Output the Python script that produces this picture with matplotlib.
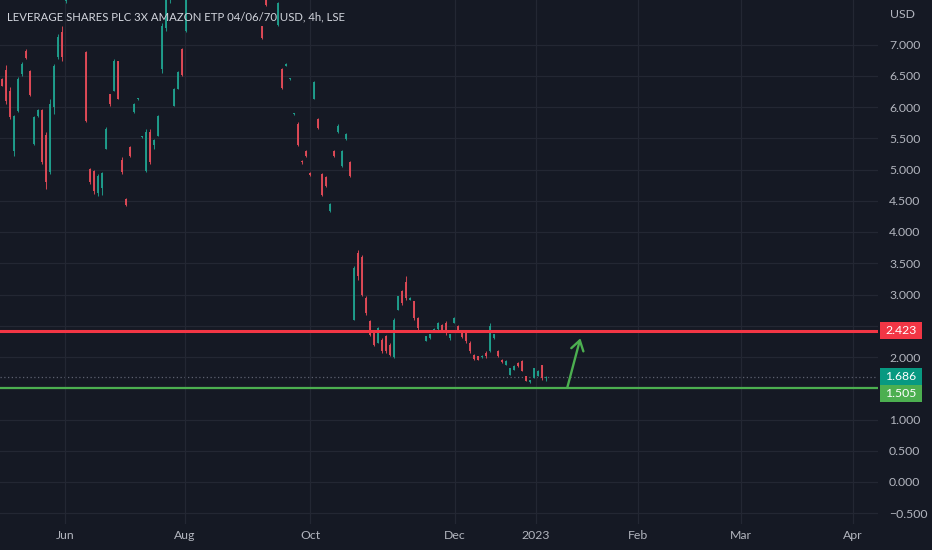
import matplotlib
matplotlib.use("Agg")
import matplotlib.pyplot as plt
from matplotlib.patches import Rectangle
from matplotlib.transforms import blended_transform_factory
import numpy as np

# ---- data (4h candles) ----
opens = [6.45, 6.60, 6.25, 5.30, 5.94, 6.53, 6.90, 6.58, 5.41, 5.86,
         5.95, 5.55, 4.96, 6.00, 6.80, 7.20, 7.70, 8.10, 8.40, 8.30,
         8.00, 6.88, 5.01, 4.98, 4.62, 4.70, 5.33, 6.21, 6.26, 6.73,
         5.15, 4.53, 5.36, 5.92, 6.13, 5.52, 4.98, 5.60, 5.40, 5.54,
         6.61, 7.26, 7.75, 6.02, 6.29, 6.93, 7.22, 7.90, 8.20, 8.50,
         8.80, 9.00, 9.30, 9.10, 8.80, 8.60, 8.80, 8.70, 8.30, 8.10,
         8.30, 8.05, 7.90, 8.00, 7.85, 7.29, 7.80, 7.80, 7.90, 7.32,
         6.61, 6.66, 6.45, 5.89, 5.73, 5.14, 5.30, 4.95, 6.13, 5.81,
         4.93, 4.88, 4.34, 5.30, 5.60, 5.06, 5.49, 5.12, 2.60, 3.66,
         3.60, 2.95, 2.57, 2.39, 2.23, 2.28, 2.33, 2.20, 2.00, 2.76,
         3.05, 3.20, 2.92, 2.89, 2.63, 2.42, 2.26, 2.30, 2.41, 2.45,
         2.52, 2.55, 2.30, 2.55, 2.50, 2.40, 2.38, 2.23, 2.04, 2.01,
         2.00, 2.07, 2.10, 2.30, 2.10, 1.96, 1.88, 1.72, 1.80, 1.90,
         1.93, 1.69, 1.60, 1.67, 1.70, 1.88, 1.66]
highs = [6.47, 6.68, 6.32, 5.88, 6.48, 6.72, 6.93, 6.60, 5.86, 5.97,
         5.97, 5.60, 6.13, 6.69, 7.17, 7.29, 8.30, 8.50, 8.70, 8.40,
         8.20, 6.90, 5.03, 5.00, 4.93, 4.96, 5.68, 6.21, 6.77, 6.73,
         5.20, 4.55, 5.38, 6.06, 6.14, 5.53, 5.65, 5.65, 5.49, 5.88,
         7.35, 8.00, 8.20, 6.30, 6.58, 6.95, 8.00, 8.30, 8.60, 8.90,
         9.20, 9.40, 9.60, 9.30, 9.00, 8.90, 9.10, 8.80, 8.50, 8.40,
         8.50, 8.20, 8.10, 8.10, 8.00, 7.30, 7.90, 8.00, 8.10, 7.68,
         6.62, 6.70, 6.46, 5.90, 5.76, 5.15, 5.31, 4.96, 6.42, 5.82,
         4.95, 4.90, 4.46, 5.31, 5.73, 5.31, 5.58, 5.13, 3.45, 3.72,
         3.64, 2.97, 2.60, 2.40, 2.48, 2.30, 2.35, 2.22, 2.62, 2.98,
         3.08, 3.30, 2.96, 2.90, 2.64, 2.43, 2.34, 2.37, 2.46, 2.56,
         2.53, 2.57, 2.37, 2.64, 2.51, 2.41, 2.40, 2.25, 2.05, 2.02,
         2.03, 2.09, 2.55, 2.37, 2.12, 1.97, 1.96, 1.83, 1.88, 1.92,
         1.96, 1.69, 1.64, 1.83, 1.80, 1.88, 1.70]
lows = [6.33, 6.05, 5.81, 5.22, 5.92, 6.50, 6.77, 6.18, 5.40, 5.84,
        5.09, 4.69, 4.93, 5.89, 6.77, 6.73, 7.66, 7.95, 8.20, 7.90,
        7.80, 5.76, 4.77, 4.61, 4.57, 4.60, 5.33, 6.02, 6.26, 6.13,
        4.93, 4.41, 5.20, 5.91, 6.12, 5.51, 4.96, 5.09, 5.33, 5.54,
        6.55, 7.22, 7.66, 6.02, 6.29, 6.50, 7.20, 7.80, 8.10, 8.40,
        8.60, 8.80, 9.00, 8.70, 8.50, 8.40, 8.60, 8.20, 8.00, 7.90,
        8.00, 7.85, 7.80, 7.80, 7.78, 7.09, 7.62, 7.76, 7.78, 7.30,
        6.29, 6.66, 6.44, 5.88, 5.38, 5.09, 5.20, 4.90, 6.13, 5.65,
        4.57, 4.72, 4.32, 5.20, 5.58, 5.04, 5.48, 4.88, 2.60, 3.24,
        2.97, 2.68, 2.33, 2.17, 2.23, 2.07, 2.07, 2.02, 1.99, 2.75,
        2.84, 2.92, 2.91, 2.60, 2.44, 2.40, 2.25, 2.29, 2.40, 2.44,
        2.40, 2.36, 2.28, 2.54, 2.42, 2.31, 2.23, 2.07, 1.96, 1.95,
        1.99, 1.99, 2.08, 2.29, 2.00, 1.91, 1.88, 1.72, 1.79, 1.84,
        1.77, 1.61, 1.59, 1.67, 1.69, 1.64, 1.62]
closes = [6.34, 6.10, 5.84, 5.86, 6.45, 6.69, 6.78, 6.20, 5.84, 5.95,
          5.12, 4.80, 6.05, 6.66, 7.12, 6.80, 8.10, 8.40, 8.30, 8.00,
          7.85, 5.78, 4.80, 4.65, 4.90, 4.95, 5.65, 6.05, 6.73, 6.13,
          4.96, 4.43, 5.22, 6.05, 6.13, 5.52, 5.60, 5.12, 5.47, 5.86,
          7.30, 7.80, 8.10, 6.29, 6.56, 6.52, 7.90, 8.20, 8.50, 8.80,
          9.00, 9.30, 9.10, 8.80, 8.60, 8.80, 8.70, 8.30, 8.10, 8.30,
          8.05, 7.90, 8.00, 7.85, 7.95, 7.10, 7.64, 7.90, 7.85, 7.66,
          6.31, 6.69, 6.45, 5.89, 5.40, 5.12, 5.22, 4.91, 6.40, 5.66,
          4.60, 4.74, 4.45, 5.22, 5.70, 5.30, 5.57, 4.90, 3.43, 3.30,
          3.00, 2.70, 2.36, 2.20, 2.47, 2.10, 2.09, 2.04, 2.60, 2.97,
          2.86, 2.95, 2.95, 2.62, 2.46, 2.41, 2.33, 2.36, 2.45, 2.55,
          2.41, 2.38, 2.36, 2.63, 2.43, 2.32, 2.25, 2.09, 1.97, 1.96,
          2.02, 2.01, 2.50, 2.36, 2.01, 1.92, 1.94, 1.82, 1.86, 1.85,
          1.78, 1.62, 1.63, 1.82, 1.78, 1.66, 1.686]

month_labels = ["Jun", "Aug", "Oct", "Dec", "2023", "Feb", "Mar", "Apr"]
month_bar_pos = [15.75, 45.75, 77, 113.25, 133.5, 159, 184.75, 212.75]
price_ticks = [-0.5, 0.0, 0.5, 1.0, 1.5, 2.0, 2.5, 3.0, 3.5, 4.0,
               4.5, 5.0, 5.5, 6.0, 6.5, 7.0]
hidden_ticks = [1.5, 2.5]     # covered by the price labels on the axis
resistance = 2.423
support = 1.505
last_price = 1.686
arrow_start = (141.3, 1.505)
arrow_end = (144.6, 2.30)
title = "LEVERAGE SHARES PLC 3X AMAZON ETP 04/06/70 USD, 4h, LSE"

# ---- style ----
BG = "#151924"
GRID = "#232733"
TXT = "#b2b5be"
UP = "#1f9e8c"
DN = "#e04a57"
RED = "#f23645"
GREEN = "#4caf50"
TEAL = "#089981"
FONT = ["Lato", "DejaVu Sans"]
plt.rcParams["font.family"] = FONT

W, H = 932, 550
fig = plt.figure(figsize=(W / 100, H / 100), dpi=100, facecolor=BG)
ax = fig.add_axes([0, 26 / H, 878 / W, 524 / H], facecolor=BG)

o = np.array(opens); h = np.array(highs); l = np.array(lows); c = np.array(closes)
x = np.arange(len(o))
up = c >= o
cols = np.where(up, UP, DN)

ax.vlines(x, l, h, colors=cols, linewidth=0.75, zorder=2, alpha=0.9)
body_bottom = np.minimum(o, c)
body_h = np.maximum(np.abs(c - o), 0.02)
ax.bar(x, body_h, bottom=body_bottom, width=0.45, color=cols, linewidth=0,
       zorder=2, alpha=0.95)

ax.set_xlim(-0.5, 219)
ax.set_ylim(-0.672, 7.712)

# grid
ax.set_yticks(price_ticks)
ax.set_xticks(month_bar_pos)
ax.grid(True, color=GRID, linewidth=0.9, zorder=0)
for s in ax.spines.values():
    s.set_visible(False)

ax.yaxis.tick_right()
ax.set_yticklabels(["" if v in hidden_ticks else f"{v:.3f}".replace("-", "\u2212")
                    for v in price_ticks])
ax.set_xticklabels(month_labels)
ax.tick_params(axis="y", length=0, pad=8, labelsize=8.8, labelcolor=TXT)
ax.tick_params(axis="x", length=0, pad=4, labelsize=8.8, labelcolor=TXT)
for t in ax.get_yticklabels():
    t.set_horizontalalignment("left")

# horizontal levels
ax.axhline(resistance, color=RED, linewidth=2.2, zorder=3)
ax.axhline(support, color=GREEN, linewidth=1.6, zorder=3)
ax.axhline(last_price, color="#5d6170", linewidth=0.9, linestyle=(0, (1, 2)), zorder=1)

# drawn arrow
ax.annotate("", xy=arrow_end, xytext=arrow_start,
            arrowprops=dict(arrowstyle="->,head_length=0.7,head_width=0.45",
                            color=GREEN, lw=1.7, shrinkA=0, shrinkB=0), zorder=4)

# price labels on the axis
bt = blended_transform_factory(fig.transFigure, ax.transData)
box_h = 17 / 62.5


def price_box(yc, text, color):
    ax.add_patch(Rectangle((880 / W, yc - box_h / 2), 42 / W, box_h, transform=bt,
                           facecolor=color, edgecolor="none", clip_on=False, zorder=10))
    ax.text(901 / W, yc, text, transform=bt, ha="center", va="center",
            color="white", fontsize=8.8, clip_on=False, zorder=11)


price_box(resistance, f"{resistance:.3f}", RED)
price_box(last_price, f"{last_price:.3f}", TEAL)
price_box(min(support, last_price - box_h), f"{support:.3f}", GREEN)

fig.text(890 / W, 1 - 14 / H, "USD", color=TXT, fontsize=8.8, ha="left", va="center")
fig.text(7 / W, 1 - 17 / H, title, color="#d1d4dc", fontsize=8.2, ha="left",
         va="center")

fig.savefig("out.png", dpi=100, facecolor=BG)
